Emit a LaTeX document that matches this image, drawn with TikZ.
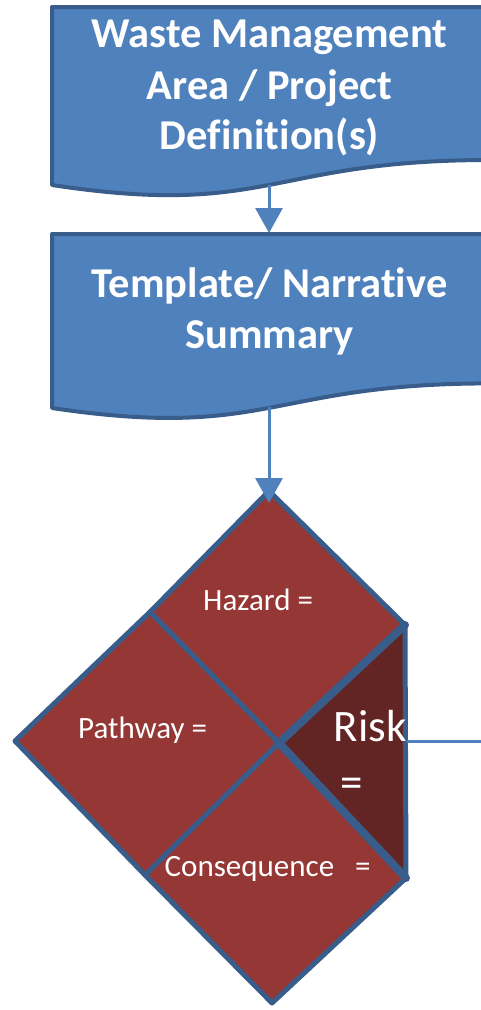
\documentclass[tikz,border=0pt]{standalone}
\usepackage{fontspec}
\setmainfont{Carlito}[Ligatures=NoCommon]
\usetikzlibrary{arrows.meta}
\definecolor{boxfill}{HTML}{4F81BD}
\definecolor{boxline}{HTML}{385D8A}
\definecolor{redfill}{HTML}{953735}
\definecolor{riskfill}{HTML}{632523}
\begin{document}
\begin{tikzpicture}[x=1pt,y=-1pt,
  docbox/.style={fill=boxfill, draw=boxline, line width=4pt, line join=round},
  titletext/.style={font=\bfseries\fontsize{42.5}{51}\selectfont, text=white, inner sep=0pt, anchor=base},
  labeltext/.style={font=\fontsize{31}{37}\selectfont, text=white, inner sep=0pt, anchor=base west},
  risktext/.style={font=\fontsize{45}{54}\selectfont, text=white, inner sep=0pt},
  part/.style={fill=redfill, draw=boxline, line width=5pt, line join=round},
  riskpart/.style={fill=riskfill, draw=boxline, line width=5pt, line join=round},
  conn/.style={draw=boxfill, line width=3pt},
  arr/.style={conn, -{Triangle[width=27pt,length=25pt]}}]
\clip (0,0) rectangle (481,1010);
\fill[white] (0,0) rectangle (481,1010);

% document boxes
\path[docbox] (52,7) -- (490,7) -- (490,160) .. controls (269,160) and (269,218) .. (52,185) -- cycle;
\path[docbox] (52,234) -- (490,234) -- (490,383.4) .. controls (269,383.4) and (269,440.3) .. (52,408) -- cycle;
\coordinate (b1bot) at (269,185);
\coordinate (b2top) at (269,233);
\coordinate (b2bot) at (269,407);

\node[titletext] (t1a) at (269.5,47) {Waste Management};
\node[titletext] (t1b) at (269.5,99) {Area / Project};
\node[titletext] (t1c) at (269.5,149.5) {Definition(s)};
\node[titletext] (t2a) at (269.5,297.5) {Template/ Narrative};
\node[titletext] (t2b) at (269.5,348.5) {Summary};

% diamond
\coordinate (T) at (269,491);
\coordinate (Ttip) at (269,503);
\coordinate (L) at (15,741);
\coordinate (B) at (272,1003);
\coordinate (C) at (279,743);
\coordinate (HP) at (150,612);
\coordinate (PC) at (145,875);
\coordinate (TR) at (405,625);
\coordinate (BR) at (406,878);
\coordinate (riskE) at (407,741);
\coordinate (riskOut) at (495,741);

\path[part] (T) -- (HP) -- (C) -- (TR) -- cycle;
\path[part] (HP) -- (L) -- (PC) -- (C) -- cycle;
\path[part] (C) -- (PC) -- (B) -- (BR) -- cycle;
\path[riskpart] (TR) -- (C) -- (BR) -- cycle;
\draw[boxline, line width=8pt, line cap=round] (TR) -- (C) -- (BR);

\node[labeltext] (hazard) at (203,610) {Hazard =};
\node[labeltext] (pathway) at (78,738) {Pathway =};
\node[labeltext] (conseq) at (164.5,876) {Consequence\ \ \ =};
\node[risktext, anchor=base west] (risk) at (333.5,741) {Risk};
\node[risktext, anchor=base] (riskeq) at (352,797) {=};

% connectors
\draw[arr] (b1bot) -- (b2top);
\draw[arr] (b2bot) -- (Ttip);
\draw[conn] (riskE) -- (riskOut);
\end{tikzpicture}
\end{document}
